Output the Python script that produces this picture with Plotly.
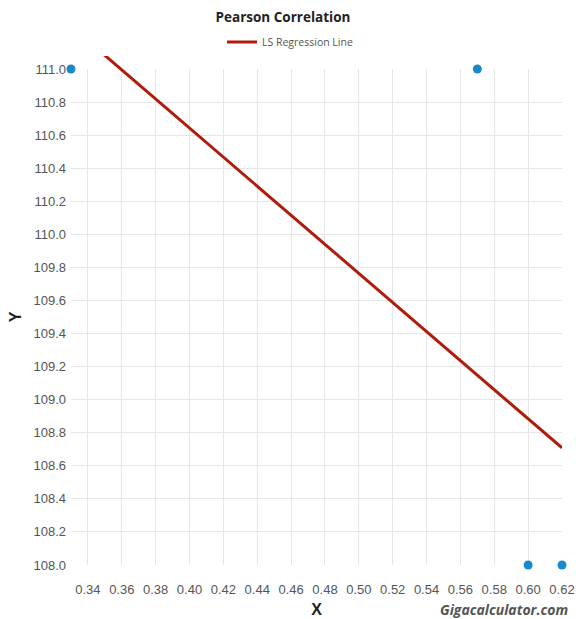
import numpy as np
import plotly.graph_objects as go

x_vals = [0.33, 0.57, 0.60, 0.62]
y_vals = [111.0, 111.0, 108.0, 108.0]
x_ticks = [0.34, 0.36, 0.38, 0.40, 0.42, 0.44, 0.46, 0.48, 0.50, 0.52, 0.54, 0.56, 0.58, 0.60, 0.62]
y_ticks = [108.0, 108.2, 108.4, 108.6, 108.8, 109.0, 109.2, 109.4, 109.6, 109.8, 110.0, 110.2, 110.4, 110.6, 110.8, 111.0]

slope, intercept = np.polyfit(x_vals, y_vals, 1)
line_x = [min(x_vals), max(x_vals)]
line_y = [slope * v + intercept for v in line_x]

W, H = 576, 619
m_l, m_r, m_t, m_b = 71, 14, 56, 54
plot_h = H - m_t - m_b
top_px = 69  # pixel of 111.0
D = (H - m_b - top_px) / plot_h
x_range = [0.33, 0.62]
y_range = [108.0, 111.0]
y2_top = y_range[0] + (y_range[1] - y_range[0]) / D

fig = go.Figure()
fig.add_trace(go.Scatter(
    x=line_x, y=line_y, mode="lines", name="LS Regression Line",
    line=dict(color="#b01c0c", width=3), xaxis="x2", yaxis="y2",
    hoverinfo="skip", showlegend=True,
))
fig.add_trace(go.Scatter(
    x=x_vals, y=y_vals, mode="markers", showlegend=False,
    marker=dict(color="#168bcb", size=9), cliponaxis=False,
))

tick_font = dict(family="Liberation Sans, Arial, sans-serif", size=13, color="#555")
title_font = dict(family="Liberation Sans, Arial, sans-serif", size=16, color="#222")
fig.update_layout(
    width=W, height=H,
    margin=dict(l=m_l, r=m_r, t=m_t, b=m_b, autoexpand=False),
    paper_bgcolor="white", plot_bgcolor="rgba(0,0,0,0)",
    title=dict(text="<b>Pearson Correlation</b>", x=283 / W, xref="container", xanchor="center",
               y=1 - 17 / H, yref="container", yanchor="middle",
               font=dict(family="Open Sans, sans-serif", size=13.5, color="#222")),
    legend=dict(orientation="h", x=290 / W, xanchor="center", xref="container",
                y=1 - 42 / H, yref="container", yanchor="middle",
                font=dict(family="Open Sans, sans-serif", size=10.5, color="#555"),
                itemwidth=30, bgcolor="rgba(0,0,0,0)"),
    xaxis=dict(range=x_range, domain=[0, 1], anchor="y", tickvals=x_ticks,
               ticktext=[f"{v:.2f}" for v in x_ticks], showgrid=True, gridcolor="#e6e6e6",
               gridwidth=1, zeroline=False, showline=False, ticks="", tickfont=tick_font,
               ticklabelstandoff=15,
               title=dict(text="<b>X</b>", font=title_font, standoff=7)),
    yaxis=dict(range=y_range, domain=[0, D], anchor="x", tickvals=y_ticks,
               ticktext=[f"{v:.1f}" for v in y_ticks], showgrid=True, gridcolor="#e6e6e6",
               gridwidth=1, zeroline=False, showline=False, ticks="", tickfont=tick_font,
               ticklabelstandoff=4,
               title=dict(text="<b>Y</b>", font=title_font, standoff=7)),
    xaxis2=dict(range=x_range, domain=[0, 1], anchor="y2", visible=False, showgrid=False),
    yaxis2=dict(range=[y_range[0], y2_top], domain=[0, 1], anchor="x2", visible=False, showgrid=False),
    annotations=[dict(text="<b><i>Gigacalculator.com</i></b>", xref="paper", yref="paper",
                      x=1 + (m_r - 6) / (W - m_l - m_r), y=-(609 - (H - m_b)) / plot_h,
                      xanchor="right", yanchor="middle", showarrow=False,
                      font=dict(family="Open Sans, sans-serif", size=14, color="#555"))],
)

fig.write_html("out.html", config={"displayModeBar": False},
               post_script="document.body.style.margin='0px';")
